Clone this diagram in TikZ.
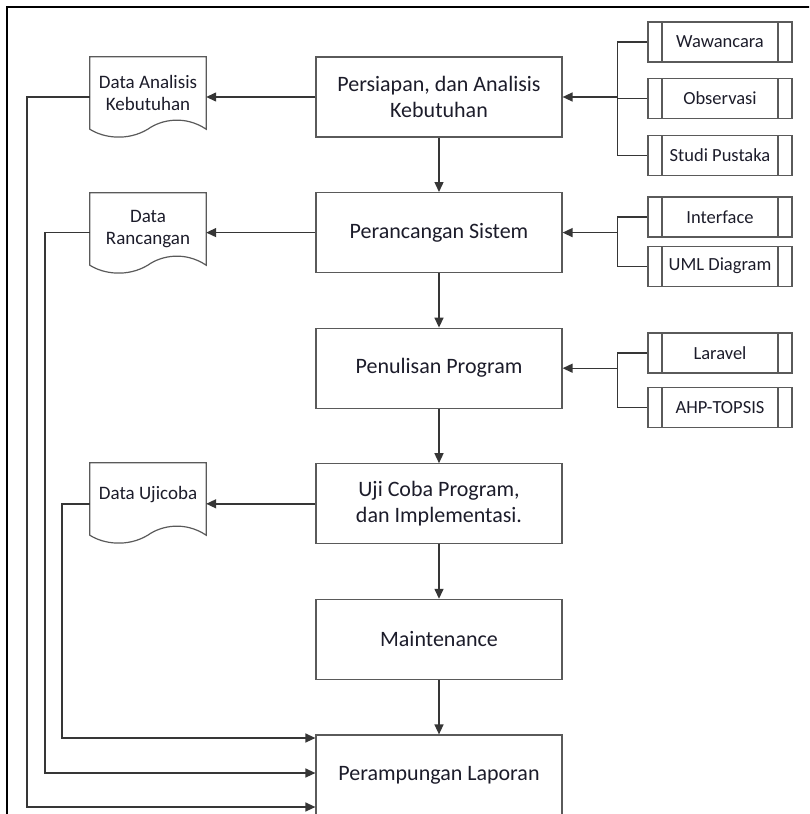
\documentclass[tikz,border=0pt]{standalone}
\usepackage{fontspec}
\setmainfont{Carlito}
\usetikzlibrary{positioning,arrows.meta,calc}
\definecolor{boxgray}{HTML}{5A5A5A}
\definecolor{linegray}{HTML}{363636}
\definecolor{txtcol}{HTML}{1C1C2A}

% document outline with a wavy bottom
\newcommand{\docoutline}[1]{%
  \draw[boxgray, line width=1.2pt] (#1.south west)
    .. controls +(14,9) and +(-20,12) .. ($(#1.south west)+(58,0)$)
    .. controls +(14,-10) and +(-21,-14) .. (#1.south east)
    -- (#1.north east) -- (#1.north west) -- cycle;}

\tikzset{
  stage/.style={draw=boxgray, line width=1.2pt, minimum width=246pt, minimum height=80pt,
    align=center, font=\fontsize{22}{26}\selectfont, text=txtcol},
  docnode/.style={minimum width=116pt, minimum height=72pt, inner sep=0pt,
    align=center, font=\fontsize{19}{22}\selectfont, text=txtcol},
  prebox/.style={draw=boxgray, line width=1.2pt, minimum width=144pt, minimum height=40pt,
    inner sep=0pt, font=\fontsize{18.5}{22}\selectfont, text=txtcol,
    path picture={\draw[boxgray, line width=2.4pt]
      ($(path picture bounding box.north west)+(14pt,0pt)$) -- ($(path picture bounding box.south west)+(14pt,0pt)$)
      ($(path picture bounding box.north east)+(-14pt,0pt)$) -- ($(path picture bounding box.south east)+(-14pt,0pt)$);}},
  link/.style={draw=linegray, line width=1.4pt},
  flow/.style={link, -{Triangle[length=10pt,width=9pt]}},
}

\begin{document}
\begin{tikzpicture}[x=1pt, y=-1pt]
    \clip (0,0) rectangle (809,814);

    % frame
    \draw[black, line width=1.8pt] (7,820) -- (7,7) -- (815,7);

    % main stages
    \node[stage] (persiapan) at (439,97) {Persiapan, dan Analisis\\Kebutuhan};
    \node[stage, below=54.4pt of persiapan] (rancang) {Perancangan Sistem};
    \node[stage, below=54.4pt of rancang] (penulisan) {Penulisan Program};
    \node[stage, below=54.4pt of penulisan] (ujicoba) {Uji Coba Program,\\dan Implementasi.};
    \node[stage, below=54.4pt of ujicoba] (maint) {Maintenance};
    \node[stage, below=54.4pt of maint] (laporan) {Perampungan Laporan};

    \foreach \a/\b in {persiapan/rancang, rancang/penulisan, penulisan/ujicoba,
                       ujicoba/maint, maint/laporan}
        \draw[flow] (\a) -- (\b);

    % output documents
    \node[docnode] (dkebutuhan) at (148,93) {Data Analisis\\Kebutuhan};
    \node[docnode] (drancang) at (148,229) {Data\\Rancangan};
    \node[docnode, text depth=12pt] (dujicoba) at (148,499) {Data Ujicoba};
    \foreach \d in {dkebutuhan, drancang, dujicoba} {\docoutline{\d}}

    \draw[flow] (persiapan.west) -- (persiapan.west -| dkebutuhan.east);
    \draw[flow] (rancang.west) -- (rancang.west -| drancang.east);
    \draw[flow] (ujicoba.west) -- (ujicoba.west -| dujicoba.east);

    % return lines to the report
    \draw[flow] (persiapan.west -| dkebutuhan.west) -- ++(-63,0) |- ($(laporan.west)+(0,32)$);
    \draw[flow] (rancang.west -| drancang.west) -- ++(-45,0) |- ($(laporan.west)+(0,-2)$);
    \draw[flow] (ujicoba.west -| dujicoba.west) -- ++(-28,0) |- ($(laporan.west)+(0,-37)$);

    % inputs
    \node[prebox] (wawancara) at (720,42) {Wawancara};
    \node[prebox, below=15pt of wawancara] (observasi) {Observasi};
    \node[prebox, below=16pt of observasi] (pustaka) {Studi Pustaka};

    \node[prebox] (interface) at (720,217) {Interface};
    \node[prebox, below=8pt of interface] (uml) {UML Diagram};

    \node[prebox] (laravel) at (720,353) {Laravel};
    \node[prebox, below=13pt of laravel] (ahp) {AHP-TOPSIS};

    \coordinate (busA) at ($(wawancara.west)+(-30,0)$);
    \draw[link] (wawancara.west) -- (busA) |- (pustaka.west);
    \draw[link] (observasi.west) -- (observasi.west -| busA);
    \coordinate (jA) at (persiapan.east -| busA);
    \draw[flow] (jA) -- (persiapan.east);

    \coordinate (busB) at ($(interface.west)+(-30,0)$);
    \draw[link] (interface.west) -- (busB) |- (uml.west);
    \coordinate (jB) at (rancang.east -| busB);
    \draw[flow] (jB) -- (rancang.east);

    \coordinate (busC) at ($(laravel.west)+(-30,0)$);
    \draw[link] (laravel.west) -- (busC) |- (ahp.west);
    \coordinate (jC) at (penulisan.east -| busC);
    \draw[flow] (jC) -- (penulisan.east);
\end{tikzpicture}
\end{document}
